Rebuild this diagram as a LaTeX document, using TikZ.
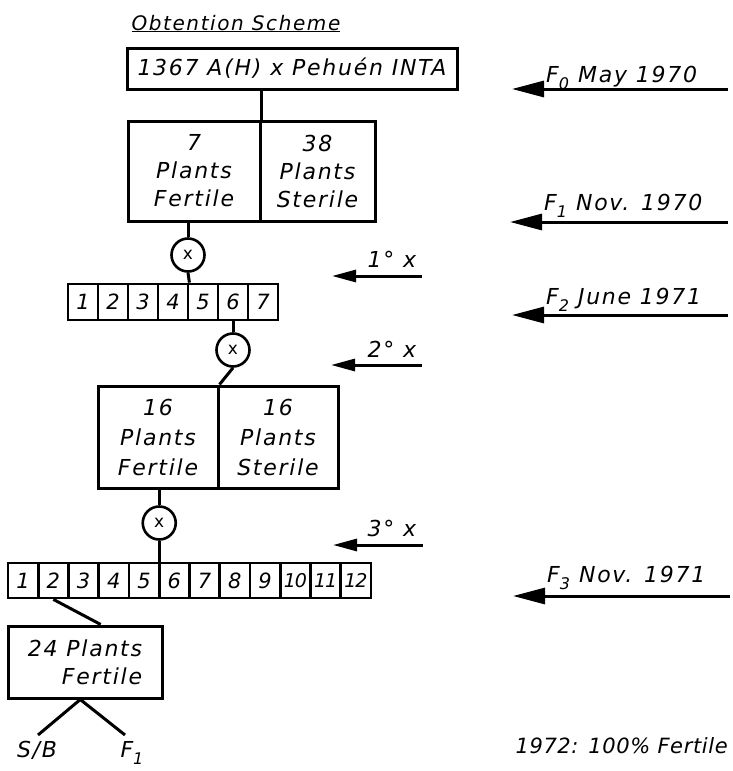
\documentclass[tikz,border=0pt]{standalone}
\usepackage{fontspec}
\setmainfont{DejaVu Sans}[LetterSpace=8]
\usetikzlibrary{arrows.meta,calc}
\newcommand\lowsub[1]{\raisebox{-0.35em}{\fontsize{16}{16}\selectfont #1}}
\tikzset{
 every node/.style={font=\itshape\fontsize{22}{28}\selectfont},
 box/.style={draw, line width=3pt, inner sep=0pt, align=center},
 cell/.style={draw, line width=2.8pt, minimum width=30pt, minimum height=36pt, inner sep=0pt, font=\itshape\fontsize{21}{21}\selectfont},
 cross/.style={draw, circle, line width=2.6pt, minimum size=33pt, inner sep=0pt, font=\fontsize{17}{17}\selectfont},
 link/.style={line width=3pt},
 bigarrow/.style={line width=3pt, -{Triangle[length=32pt,width=16pt]}},
 smallarrow/.style={line width=3pt, -{Triangle[length=24pt,width=12pt]}},
 lab/.style={anchor=base},
 genlab/.style={anchor=base west, inner sep=0pt},
}
\begin{document}
\begin{tikzpicture}[x=1pt,y=-1pt]
\fill[white] (0,0) rectangle (732,771);
\useasboundingbox (0,0) rectangle (732,771);

\node[anchor=base west, font=\itshape\fontsize{20}{20}\selectfont] (title) at (128,30) {\underline{Obtention Scheme}};

\node[box, minimum width=330pt, minimum height=41pt] (top) at (292,68.5) {1367 A(H) x Pehuén INTA};

\node[box, minimum width=132pt, minimum height=100pt] (fert1) at (194,171) {7\\Plants\\Fertile};
\node[box, minimum width=115pt, minimum height=100pt] (ster1) at (317.5,171) {38\\Plants\\Sterile};
\draw[link] (top.south -| fert1.north east) -- (fert1.north east);

\node[cross] (c1) at (188,255) {x};
\draw[link] (c1 |- fert1.south) -- (c1.north);

\foreach \i in {1,...,7} \node[cell] (ra\i) at ({68+30*(\i-1)+15}, 302) {\i};
\draw[link] (c1.south) -- (ra4.north east);

\node[cross] (c2) at (233,350) {x};
\draw[link] (ra6.south) -- (c2.north);

\node[box, minimum width=120pt, minimum height=102pt, font=\itshape\fontsize{22}{30}\selectfont] (fert2) at (158,437) {16\\Plants\\Fertile};
\node[box, minimum width=120pt, minimum height=102pt, font=\itshape\fontsize{22}{30}\selectfont] (ster2) at (278,437) {16\\Plants\\Sterile};
\draw[link] (c2.south) -- (fert2.north east);

\node[cross] (c3) at (159.25,523) {x};
\draw[link] (c3 |- fert2.south) -- (c3.north);

\foreach \i in {1,...,9} \node[cell, minimum width=30.25pt, minimum height=35pt] (rb\i) at ({8+30.25*(\i-1)+15.125}, 580.5) {\i};
\foreach \i in {10,11,12} \node[cell, minimum width=30.25pt, minimum height=35pt, font=\itshape\fontsize{19}{19}\selectfont\addfontfeatures{LetterSpace=-6}] (rb\i) at ({8+30.25*(\i-1)+15.125}, 580.5) {\i};
\draw[link] (c3.south) -- (c3 |- rb5.north east);

\node[box, minimum width=154pt, minimum height=72pt, align=right, inner sep=4pt] (b3) at (85,662) {24 Plants\\Fertile};
\draw[link] (rb2.south) -- ($(b3.north west)!0.6!(b3.north east)$);

\coordinate (fork) at ($(b3.south west)!0.47!(b3.south east)$);
\coordinate (sbend) at (38,735);
\coordinate (f1end) at (125,735);
\draw[link] (sbend) -- (fork) -- (f1end);
\node[lab] (sb) at (37,757) {S/B};
\node[lab] (fone) at (132,757) {F\lowsub{1}};

% generation arrows
\coordinate (a0s) at (728,89);  \coordinate (a0e) at (512,89);
\draw[bigarrow] (a0s) -- (a0e);
\node[genlab] (l0) at (546,82) {F\lowsub{0}\kern9pt May 1970};

\coordinate (a1s) at (728,222); \coordinate (a1e) at (510,222);
\draw[bigarrow] (a1s) -- (a1e);
\node[genlab] (l1) at (544,210) {F\lowsub{1}\kern9pt Nov. 1970};

\coordinate (a2s) at (728,315); \coordinate (a2e) at (512,315);
\draw[bigarrow] (a2s) -- (a2e);
\node[genlab] (l2) at (546,304) {F\lowsub{2}\kern9pt June 1971};

\coordinate (a3s) at (730,596); \coordinate (a3e) at (513,596);
\draw[bigarrow] (a3s) -- (a3e);
\node[genlab] (l3) at (547,582) {F\lowsub{3}\kern9pt Nov. 1971};

% cross arrows
\coordinate (x1s) at (422,276); \coordinate (x1e) at (332,276);
\draw[smallarrow] (x1s) -- (x1e);
\node[lab] (lx1) at (392,267) {1° x};

\coordinate (x2s) at (422,365); \coordinate (x2e) at (331,365);
\draw[smallarrow] (x2s) -- (x2e);
\node[lab] (lx2) at (392,357) {2° x};

\coordinate (x3s) at (423,545); \coordinate (x3e) at (333,545);
\draw[smallarrow] (x3s) -- (x3e);
\node[lab] (lx3) at (392,536) {3° x};

\node[anchor=base east, inner sep=0pt, font=\itshape\fontsize{21}{21}\selectfont\addfontfeatures{LetterSpace=3}] (final) at (728,753) {1972: 100\% Fertile};
\end{tikzpicture}
\end{document}
